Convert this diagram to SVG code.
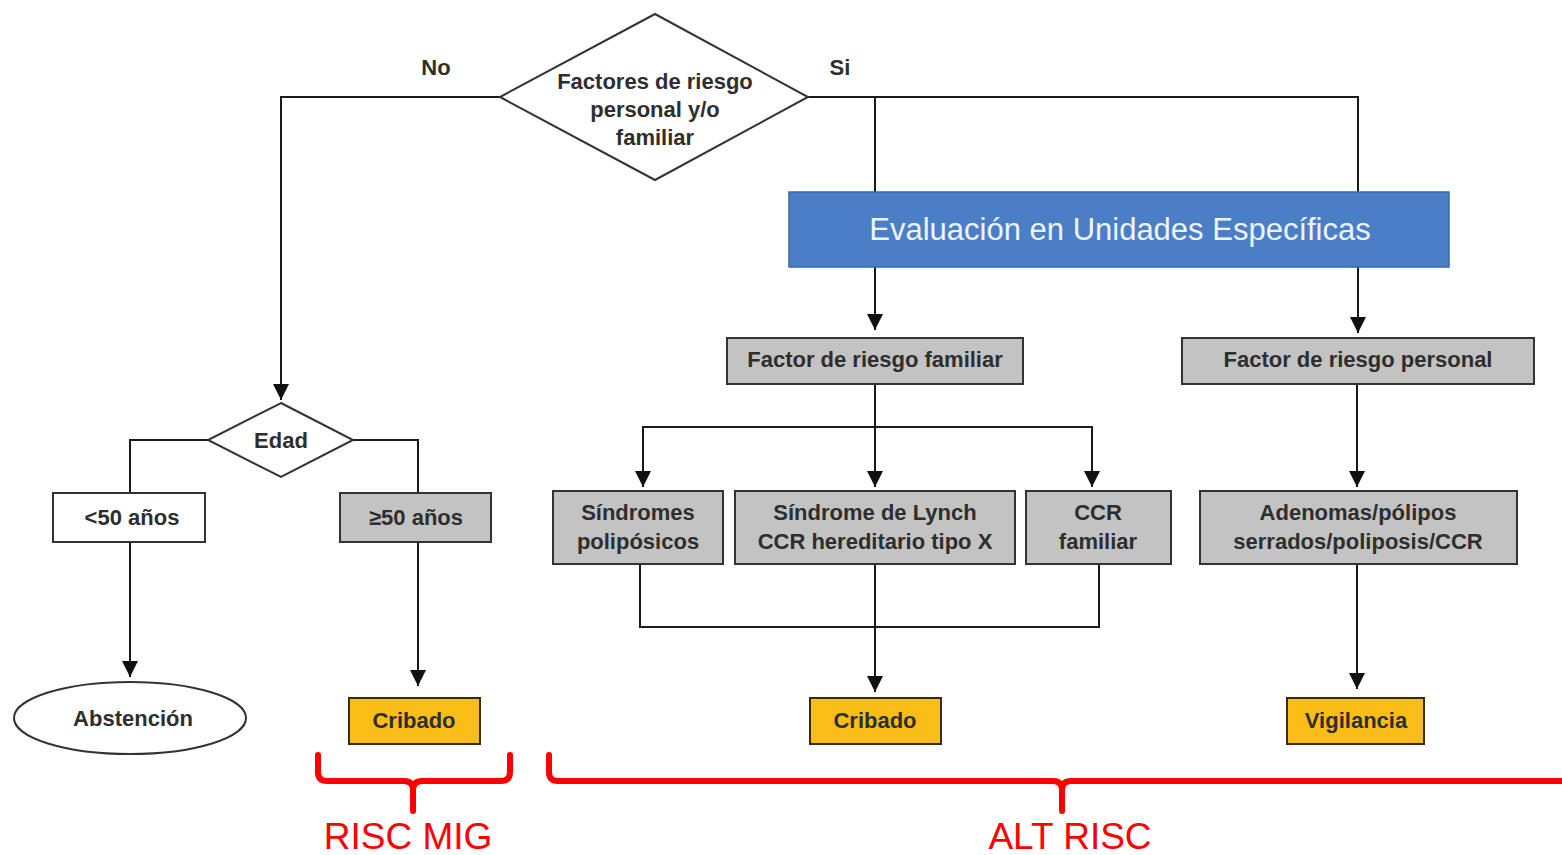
<svg xmlns="http://www.w3.org/2000/svg" width="1562" height="855" viewBox="0 0 1562 855">
<defs>
<marker id="arr" markerUnits="userSpaceOnUse" markerWidth="16" markerHeight="16" refX="16" refY="8" orient="auto" viewBox="0 0 16 16">
<path d="M0,0 L16,8 L0,16 Z" fill="#111"/>
</marker>
<style>
.ln{fill:none;stroke:#1a1a1a;stroke-width:2}
.ar{fill:none;stroke:#1a1a1a;stroke-width:2;marker-end:url(#arr)}
.gray{fill:#c3c3c3;stroke:#333;stroke-width:2}
.white{fill:#fff;stroke:#333;stroke-width:2}
.yel{fill:#fbbd18;stroke:#3a2a10;stroke-width:2}
.t{font-family:"Liberation Sans",Arial,sans-serif;font-weight:bold;font-size:22px;fill:#2e2e2e;text-anchor:middle}
.red{fill:none;stroke:#ff0000;stroke-width:6;stroke-linecap:round;stroke-linejoin:round}
.rt{font-family:"Liberation Sans",Arial,sans-serif;font-size:37px;fill:#ff0000;text-anchor:middle}
</style>
</defs>
<rect width="1562" height="855" fill="#fff"/>
<g id="connectors">
<polyline class="ar" points="500,97 281,97 281,400"/>
<polyline class="ln" points="808,97 1358,97 1358,192"/>
<line class="ln" x1="875" y1="97" x2="875" y2="192"/>
<line class="ar" x1="875" y1="267" x2="875" y2="330"/>
<line class="ar" x1="1358" y1="267" x2="1358" y2="333"/>
<line class="ar" x1="875" y1="384" x2="875" y2="487"/>
<polyline class="ar" points="875,427 643,427 643,487"/>
<polyline class="ar" points="875,427 1092,427 1092,487"/>
<line class="ar" x1="1357" y1="384" x2="1357" y2="487"/>
<polyline class="ln" points="640,564 640,627 1099,627 1099,564"/>
<line class="ar" x1="875" y1="564" x2="875" y2="692"/>
<line class="ar" x1="1357" y1="564" x2="1357" y2="689"/>
<polyline class="ln" points="208,440 130,440 130,493"/>
<polyline class="ln" points="353,440 418,440 418,493"/>
<line class="ar" x1="130" y1="542" x2="130" y2="677"/>
<line class="ar" x1="418" y1="542" x2="418" y2="686"/>
<text class="t" x="436" y="75" font-size="24">No</text>
<text class="t" x="840" y="75" font-size="24">Si</text>
</g>
<g id="decision">
<polygon class="white" points="655,14 808,97 655,180 500,97" stroke-width="1.5"/>
<text class="t" x="655" y="89">Factores de riesgo</text>
<text class="t" x="655" y="117">personal y/o</text>
<text class="t" x="655" y="145">familiar</text>
</g>
<g id="evaluacion">
<rect x="789" y="192" width="660" height="75" fill="#4a7fc8" stroke="#3a68a8" stroke-width="1.5"/>
<text x="1120" y="240" font-family="Liberation Sans, Arial, sans-serif" font-size="31" fill="#eef4ff" text-anchor="middle">Evaluación en Unidades Específicas</text>
</g>
<g id="familiar">
<rect class="gray" x="727" y="338" width="296" height="46"/>
<text class="t" x="875" y="367">Factor de riesgo familiar</text>
</g>
<g id="personal">
<rect class="gray" x="1182" y="338" width="352" height="46"/>
<text class="t" x="1358" y="367">Factor de riesgo personal</text>
</g>
<g id="sindromes">
<rect class="gray" x="553" y="491" width="170" height="73"/>
<text class="t" x="638" y="520">Síndromes</text>
<text class="t" x="638" y="549">polipósicos</text>
</g>
<g id="lynch">
<rect class="gray" x="735" y="491" width="280" height="73"/>
<text class="t" x="875" y="520">Síndrome de Lynch</text>
<text class="t" x="875" y="549">CCR hereditario tipo X</text>
</g>
<g id="ccr">
<rect class="gray" x="1026" y="491" width="145" height="73"/>
<text class="t" x="1098" y="520">CCR</text>
<text class="t" x="1098" y="549">familiar</text>
</g>
<g id="adenomas">
<rect class="gray" x="1200" y="491" width="317" height="73"/>
<text class="t" x="1358" y="520">Adenomas/pólipos</text>
<text class="t" x="1358" y="549">serrados/poliposis/CCR</text>
</g>
<g id="edad">
<polygon class="white" points="281,403 353,440 281,477 208,440" stroke-width="1.5"/>
<text class="t" x="281" y="448">Edad</text>
</g>
<g id="menos50">
<rect class="white" x="53" y="493" width="152" height="49"/>
<text class="t" x="132" y="525">&lt;50 años</text>
</g>
<g id="mas50">
<rect class="gray" x="340" y="493" width="151" height="49"/>
<text class="t" x="416" y="525">≥50 años</text>
</g>
<g id="abstencion">
<ellipse class="white" cx="130" cy="718" rx="116" ry="36" stroke-width="1.5"/>
<text class="t" x="133" y="726">Abstención</text>
</g>
<g id="cribado1">
<rect class="yel" x="349" y="698" width="131" height="46"/>
<text class="t" x="414" y="728">Cribado</text>
</g>
<g id="cribado2">
<rect class="yel" x="810" y="698" width="131" height="46"/>
<text class="t" x="875" y="728">Cribado</text>
</g>
<g id="vigilancia">
<rect class="yel" x="1287" y="698" width="137" height="46"/>
<text class="t" x="1356" y="728">Vigilancia</text>
</g>
<g id="brackets">
<path class="red" d="M318,755 L318,772 Q318,781 327,781 L404,781 Q413,781 413,790 L413,811 M413,790 Q413,781 422,781 L501,781 Q510,781 510,772 L510,755"/>
<path class="red" d="M549,755 L549,772 Q549,781 558,781 L1053,781 Q1062,781 1062,790 L1062,811 M1062,790 Q1062,781 1071,781 L1565,781"/>
<text class="rt" x="408" y="849">RISC MIG</text>
<text class="rt" x="1070" y="849">ALT RISC</text>
</g>
</svg>
